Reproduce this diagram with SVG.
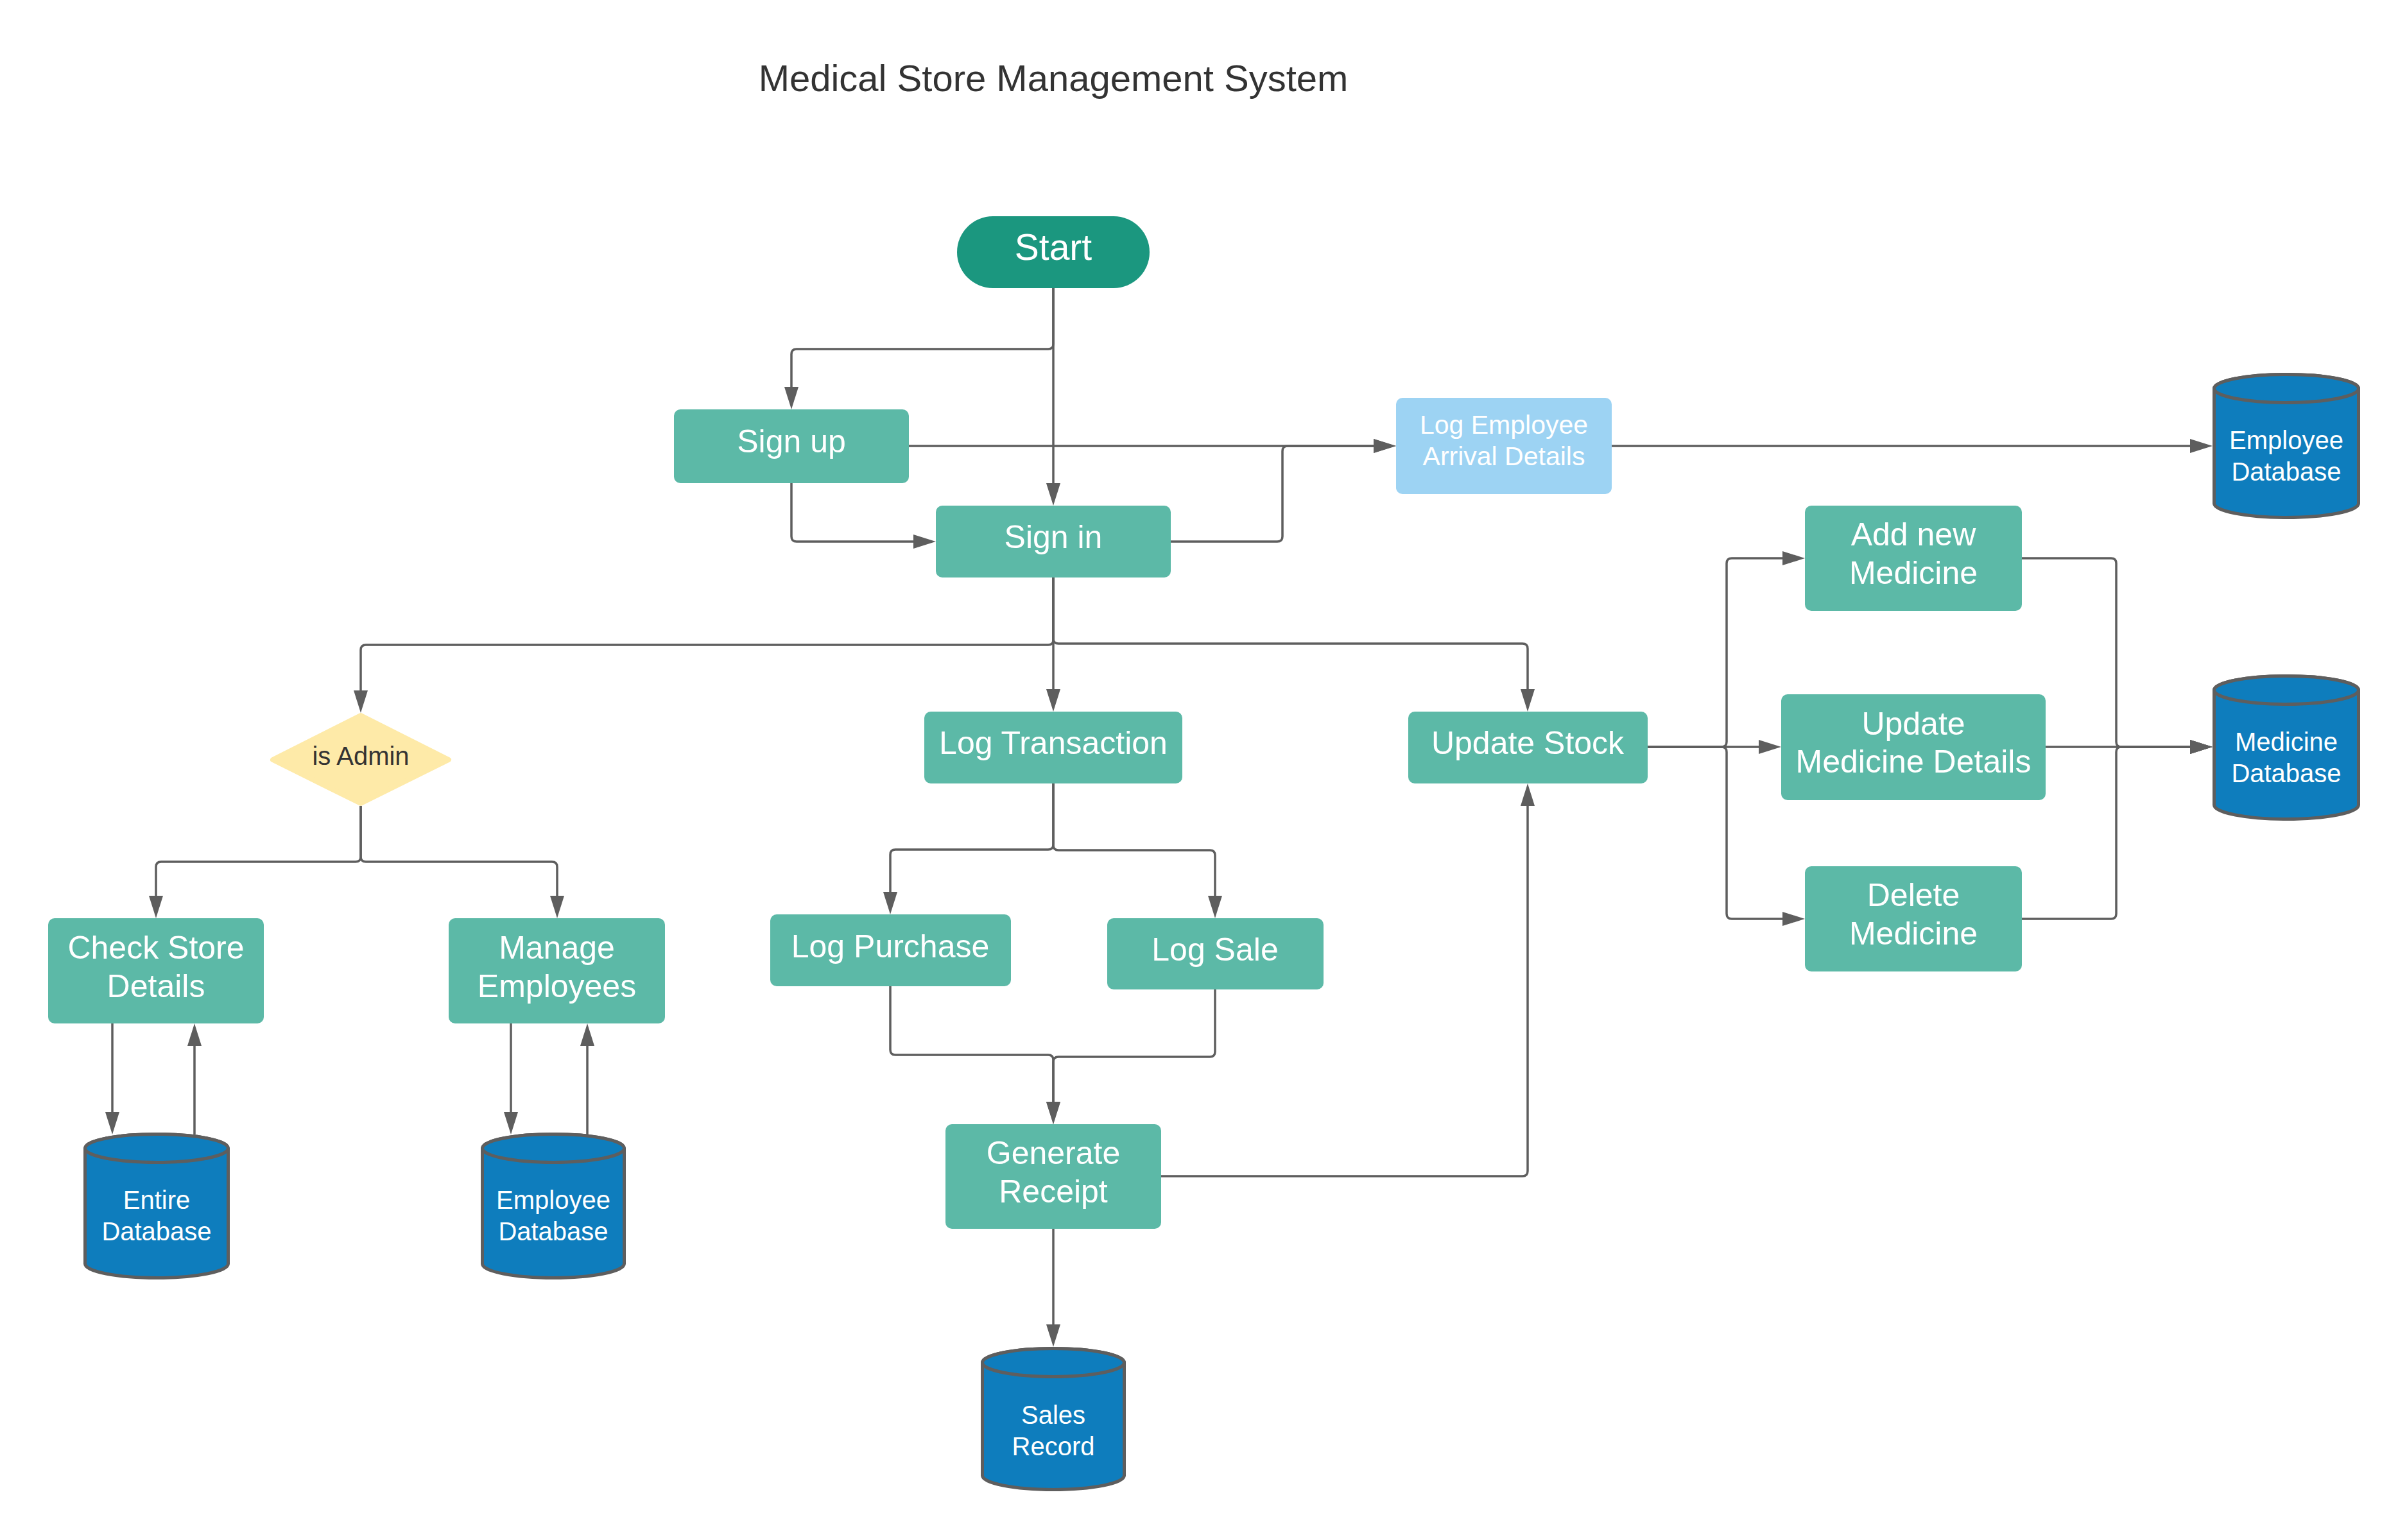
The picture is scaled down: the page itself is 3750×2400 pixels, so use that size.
<svg xmlns="http://www.w3.org/2000/svg" width="3750" height="2400" viewBox="0 0 3750 2400">
<style>
.t{font-family:"Liberation Sans",Arial,sans-serif;text-anchor:middle;fill:#ffffff}
.p{fill:#5cb9a7}
.db{fill:#0e7dbd;stroke:#5e5e5e;stroke-width:5}
.c{fill:none;stroke:#5e5e5e;stroke-width:3.5;marker-end:url(#ah)}
.n{fill:none;stroke:#5e5e5e;stroke-width:3.5}
</style>
<defs>
<marker id="ah" markerUnits="userSpaceOnUse" markerWidth="36" markerHeight="24" refX="5" refY="11" orient="auto">
<path d="M0,0 L35,11 L0,22 Z" fill="#5e5e5e"/>
</marker>
</defs>
<rect width="3750" height="2400" fill="#ffffff"/>
<text class="t" x="1641" y="142" font-size="58" style="fill:#333333">Medical Store Management System</text>

<g id="connectors">
<path class="c" d="M1641 449 V758"/>
<path class="c" d="M1641 449 V536 Q1641 544 1633 544 H1241 Q1233 544 1233 552 V608"/>
<path class="c" d="M1416 695 H2145"/>
<path class="c" d="M1233 753 V836 Q1233 844 1241 844 H1428"/>
<path class="c" d="M1824 844 H1990 Q1998 844 1998 836 V703 Q1998 695 2006 695 H2145"/>
<path class="c" d="M2511 695 H3417"/>
<path class="c" d="M1641 900 V997 Q1641 1005 1633 1005 H570 Q562 1005 562 1013 V1081"/>
<path class="c" d="M1641 900 V1079"/>
<path class="c" d="M1641 900 V995 Q1641 1003 1649 1003 H2372 Q2380 1003 2380 1011 V1079"/>
<path class="c" d="M562 1256 V1335 Q562 1343 554 1343 H251 Q243 1343 243 1351 V1401"/>
<path class="c" d="M562 1256 V1335 Q562 1343 570 1343 H860 Q868 1343 868 1351 V1401"/>
<path class="c" d="M175 1595 V1738"/>
<path class="c" d="M303 1768 V1625"/>
<path class="c" d="M796 1595 V1738"/>
<path class="c" d="M915 1768 V1625"/>
<path class="c" d="M1641 1220 V1316 Q1641 1324 1633 1324 H1395 Q1387 1324 1387 1332 V1395"/>
<path class="c" d="M1641 1220 V1317 Q1641 1325 1649 1325 H1885 Q1893 1325 1893 1333 V1401"/>
<path class="c" d="M1387 1537 V1636 Q1387 1644 1395 1644 H1633 Q1641 1644 1641 1652 V1722"/>
<path class="c" d="M1893 1542 V1639 Q1893 1647 1885 1647 H1649 Q1641 1647 1641 1655 V1722"/>
<path class="c" d="M1809 1833 H2372 Q2380 1833 2380 1825 V1251"/>
<path class="c" d="M1641 1915 V2069"/>
<path class="c" d="M2567 1164 H2682 Q2690 1164 2690 1156 V878 Q2690 870 2698 870 H2782"/>
<path class="c" d="M2567 1164 H2745"/>
<path class="c" d="M2567 1164 H2682 Q2690 1164 2690 1172 V1424 Q2690 1432 2698 1432 H2782"/>
<path class="c" d="M3150 870 H3289 Q3297 870 3297 878 V1156 Q3297 1164 3305 1164 H3417"/>
<path class="c" d="M3187 1164 H3417"/>
<path class="c" d="M3150 1432 H3289 Q3297 1432 3297 1424 V1172 Q3297 1164 3305 1164 H3417"/>
</g>

<g id="start">
<rect x="1491" y="337" width="300" height="112" rx="56" fill="#1b977f"/>
<text class="t" x="1641" y="405" font-size="57">Start</text>
</g>
<g id="signup">
<rect class="p" x="1050" y="638" width="366" height="115" rx="10"/>
<text class="t" x="1233" y="705" font-size="50">Sign up</text>
</g>
<g id="signin">
<rect class="p" x="1458" y="788" width="366" height="112" rx="10"/>
<text class="t" x="1641" y="854" font-size="50">Sign in</text>
</g>
<g id="logemployee">
<rect x="2175" y="620" width="336" height="150" rx="10" fill="#9dd3f3"/>
<text class="t" x="2343" y="676" font-size="41">Log Employee</text>
<text class="t" x="2343" y="725" font-size="41">Arrival Details</text>
</g>
<g id="employeedb1">
<path class="db" d="M3449.5 605.5 V784.5 A112.5 22 0 0 0 3674.5 784.5 V605.5 A112.5 22 0 0 0 3449.5 605.5 Z"/>
<ellipse class="db" cx="3562" cy="605.5" rx="112.5" ry="22"/>
<text class="t" x="3562" y="700" font-size="40">Employee</text>
<text class="t" x="3562" y="749" font-size="40">Database</text>
</g>
<g id="addnew">
<rect class="p" x="2812" y="788" width="338" height="164" rx="10"/>
<text class="t" x="2981" y="850" font-size="50">Add new</text>
<text class="t" x="2981" y="910" font-size="50">Medicine</text>
</g>
<g id="updatemed">
<rect class="p" x="2775" y="1082" width="412" height="165" rx="10"/>
<text class="t" x="2981" y="1145" font-size="50">Update</text>
<text class="t" x="2981" y="1204" font-size="50">Medicine Details</text>
</g>
<g id="deletemed">
<rect class="p" x="2812" y="1350" width="338" height="164" rx="10"/>
<text class="t" x="2981" y="1412" font-size="50">Delete</text>
<text class="t" x="2981" y="1472" font-size="50">Medicine</text>
</g>
<g id="medicinedb">
<path class="db" d="M3449.5 1075.5 V1254.5 A112.5 22 0 0 0 3674.5 1254.5 V1075.5 A112.5 22 0 0 0 3449.5 1075.5 Z"/>
<ellipse class="db" cx="3562" cy="1075.5" rx="112.5" ry="22"/>
<text class="t" x="3562" y="1170" font-size="40">Medicine</text>
<text class="t" x="3562" y="1219" font-size="40">Database</text>
</g>
<g id="updatestock">
<rect class="p" x="2194" y="1109" width="373" height="112" rx="10"/>
<text class="t" x="2380" y="1175" font-size="50">Update Stock</text>
</g>
<g id="logtransaction">
<rect class="p" x="1440" y="1109" width="402" height="112" rx="10"/>
<text class="t" x="1641" y="1175" font-size="50">Log Transaction</text>
</g>
<g id="isadmin">
<polygon points="562,1115 699,1184 562,1252 425,1184" fill="#feeaa8" stroke="#feeaa8" stroke-width="8" stroke-linejoin="round"/>
<text class="t" x="562" y="1192" font-size="40" style="fill:#333333">is Admin</text>
</g>
<g id="checkstore">
<rect class="p" x="75" y="1431" width="336" height="164" rx="10"/>
<text class="t" x="243" y="1494" font-size="50">Check Store</text>
<text class="t" x="243" y="1554" font-size="50">Details</text>
</g>
<g id="manageemployees">
<rect class="p" x="699" y="1431" width="337" height="164" rx="10"/>
<text class="t" x="867.5" y="1494" font-size="50">Manage</text>
<text class="t" x="867.5" y="1554" font-size="50">Employees</text>
</g>
<g id="entiredb">
<path class="db" d="M132.5 1789.5 V1969.5 A111.5 22 0 0 0 355.5 1969.5 V1789.5 A111.5 22 0 0 0 132.5 1789.5 Z"/>
<ellipse class="db" cx="244" cy="1789.5" rx="111.5" ry="22"/>
<text class="t" x="244" y="1884" font-size="40">Entire</text>
<text class="t" x="244" y="1933" font-size="40">Database</text>
</g>
<g id="employeedb2">
<path class="db" d="M751.5 1789.5 V1969.5 A110.5 22 0 0 0 972.5 1969.5 V1789.5 A110.5 22 0 0 0 751.5 1789.5 Z"/>
<ellipse class="db" cx="862" cy="1789.5" rx="110.5" ry="22"/>
<text class="t" x="862" y="1884" font-size="40">Employee</text>
<text class="t" x="862" y="1933" font-size="40">Database</text>
</g>
<g id="logpurchase">
<rect class="p" x="1200" y="1425" width="375" height="112" rx="10"/>
<text class="t" x="1387" y="1492" font-size="50">Log Purchase</text>
</g>
<g id="logsale">
<rect class="p" x="1725" y="1431" width="337" height="111" rx="10"/>
<text class="t" x="1893" y="1497" font-size="50">Log Sale</text>
</g>
<g id="generatereceipt">
<rect class="p" x="1473" y="1752" width="336" height="163" rx="10"/>
<text class="t" x="1641" y="1814" font-size="50">Generate</text>
<text class="t" x="1641" y="1874" font-size="50">Receipt</text>
</g>
<g id="salesrecord">
<path class="db" d="M1530.5 2123.5 V2299.5 A110.5 22 0 0 0 1751.5 2299.5 V2123.5 A110.5 22 0 0 0 1530.5 2123.5 Z"/>
<ellipse class="db" cx="1641" cy="2123.5" rx="110.5" ry="22"/>
<text class="t" x="1641" y="2219" font-size="40">Sales</text>
<text class="t" x="1641" y="2268" font-size="40">Record</text>
</g>
</svg>
